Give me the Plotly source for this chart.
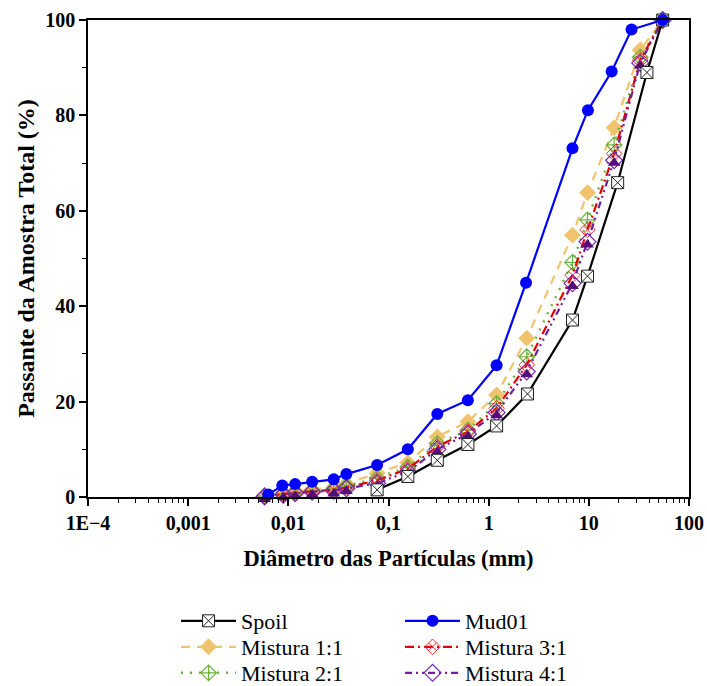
import plotly.graph_objects as go

# Particle size distribution curves (diameter in mm, percent passing)
spoil_d = [0.077, 0.156, 0.307, 0.62, 1.2, 2.44, 6.87, 9.7, 19.4, 38, 54.6]
spoil_p = [1.5, 4.3, 7.7, 11.0, 14.9, 21.6, 37.1, 46.3, 65.9, 89.0, 100]

mud_d = [0.0063, 0.0087, 0.0117, 0.0173, 0.0284, 0.038, 0.077, 0.156, 0.307,
         0.62, 1.2, 2.36, 6.87, 9.8, 16.9, 26.7, 54.6]
mud_p = [0.5, 2.4, 2.7, 3.2, 3.7, 4.8, 6.7, 10.0, 17.4, 20.3, 27.6, 44.9,
         73.1, 81.1, 89.2, 98.0, 100]

mix_d = [0.0058, 0.0089, 0.0117, 0.0173, 0.0284, 0.038, 0.077, 0.156, 0.307,
         0.62, 1.2, 2.4, 6.87, 9.7, 17.9, 32.6, 54.6]
mix11_p = [0.3, 0.8, 1.2, 1.6, 2.0, 2.8, 5.0, 7.2, 12.6, 15.8, 21.4, 33.3,
           54.9, 63.8, 77.4, 93.7, 100]
mix21_p = [0.2, 0.7, 1.0, 1.3, 1.7, 2.3, 4.0, 6.3, 11.2, 14.0, 19.6, 29.4,
           49.2, 58.1, 73.8, 92.2, 100]
mix31_p = [0.2, 0.6, 0.9, 1.2, 1.5, 2.0, 3.5, 5.9, 10.6, 13.7, 18.6, 27.7,
           46.5, 56.0, 72.0, 91.6, 100]
mix41_p = [0.1, 0.5, 0.8, 1.1, 1.3, 1.8, 2.9, 5.3, 10.0, 13.2, 17.7, 26.3,
           44.8, 53.5, 70.6, 91.0, 100]

x_ticks = [1e-4, 1e-3, 1e-2, 1e-1, 1, 10, 100]
x_ticktext = ["1E\u22124", "0,001", "0,01", "0,1", "1", "10", "100"]
y_ticks = [0, 20, 40, 60, 80, 100]

SERIF = "Liberation Serif, Times New Roman, serif"

fig = go.Figure()

fig.add_trace(go.Scatter(
    x=mix_d, y=mix11_p, name="Mistura 1:1", mode="lines+markers",
    legend="legend2", legendrank=1,
    line=dict(color="#F0C46E", width=2.2, dash="9px,7px"),
    marker=dict(symbol="diamond", size=13, color="#F0C46E"),
    cliponaxis=False))
fig.add_trace(go.Scatter(
    x=mix_d, y=mix21_p, name="Mistura 2:1", mode="lines+markers",
    legend="legend3", legendrank=1,
    line=dict(color="#6DB33F", width=2.4, dash="2px,7px"),
    marker=dict(symbol="diamond-cross-open", size=12, color="#6DB33F",
                line=dict(width=1.2)),
    cliponaxis=False))
fig.add_trace(go.Scatter(
    x=mix_d, y=mix31_p, name="Mistura 3:1", mode="lines+markers",
    legend="legend2", legendrank=2,
    line=dict(color="#E00000", width=2.2, dash="9px,4px,2px,4px"),
    marker=dict(symbol="diamond-x-open", size=12, color="#E83030",
                line=dict(width=1)),
    cliponaxis=False))
fig.add_trace(go.Scatter(
    x=mix_d, y=mix41_p, name="Mistura 4:1", mode="lines+markers",
    legend="legend3", legendrank=2, legendgroup="m41",
    line=dict(color="#70209A", width=2.2, dash="7px,4px,2px,4px,2px,4px"),
    marker=dict(symbol="diamond-open", size=13, color="#7A2AA8",
                line=dict(width=1.2)),
    cliponaxis=False))
# filled upper half of the Mistura 4:1 symbol
fig.add_trace(go.Scatter(
    x=mix_d, y=mix41_p, mode="markers", showlegend=False,
    legend="legend3", legendgroup="m41", hoverinfo="skip",
    marker=dict(symbol="triangle-up", size=11.2, color="#560C7A",
                standoff=2.8, line=dict(width=0)),
    cliponaxis=False))
fig.add_trace(go.Scatter(
    x=spoil_d, y=spoil_p, name="Spoil", mode="lines+markers",
    legend="legend", legendrank=1,
    line=dict(color="black", width=2.2),
    marker=dict(symbol="square-x", size=12, color="white",
                line=dict(color="#222222", width=1)),
    cliponaxis=False))
fig.add_trace(go.Scatter(
    x=mud_d, y=mud_p, name="Mud01", mode="lines+markers",
    legend="legend", legendrank=2,
    line=dict(color="#0000FF", width=2.2),
    marker=dict(symbol="circle", size=12, color="#0000FF"),
    cliponaxis=False))

# one legend box per row so the row spacing can be set directly
row_centers_px = [621, 647, 673]
legend_common = dict(
    orientation="h", xref="container", yref="container",
    x=0.249, xanchor="left", yanchor="middle",
    entrywidth=154, entrywidthmode="pixels", itemwidth=55,
    font=dict(family=SERIF, size=22, color="black"),
    bgcolor="rgba(0,0,0,0)", traceorder="normal",
)
legends = {}
for i, yc in enumerate(row_centers_px):
    key = "legend" if i == 0 else f"legend{i + 1}"
    legends[key] = dict(legend_common, y=1 - yc / 686)

fig.update_layout(
    width=707, height=686,
    margin=dict(l=88, r=18, t=20, b=189, autoexpand=False),
    paper_bgcolor="white", plot_bgcolor="white",
    font=dict(family=SERIF, color="black"),
    showlegend=True,
    **legends,
    xaxis=dict(
        type="log", range=[-4, 2],
        tickvals=x_ticks, ticktext=x_ticktext,
        ticks="outside", ticklen=7, tickwidth=1.5, tickcolor="black",
        showline=True, linecolor="black", linewidth=1.5, mirror=True,
        showgrid=False, zeroline=False,
        tickfont=dict(family=SERIF, size=20, color="black", weight="bold"),
        minor=dict(ticks="outside", ticklen=4, tickwidth=1, tickcolor="black",
                   dtick="D1", showgrid=False),
        title=dict(text="<b>Diâmetro das Partículas (mm)</b>",
                   font=dict(family=SERIF, size=22.5, color="black"),
                   standoff=17),
    ),
    yaxis=dict(
        range=[0, 100], tickvals=y_ticks,
        ticks="outside", ticklen=7, tickwidth=1.5, tickcolor="black",
        showline=True, linecolor="black", linewidth=1.5, mirror=True,
        showgrid=False, zeroline=False,
        tickfont=dict(family=SERIF, size=20, color="black", weight="bold"),
        minor=dict(ticks="outside", ticklen=4, tickwidth=1, tickcolor="black",
                   dtick=10, showgrid=False),
        title=dict(text="<b>Passante da Amostra Total (%)</b>",
                   font=dict(family=SERIF, size=24, color="black"),
                   standoff=4),
    ),
)

fig.write_html("out.html")
